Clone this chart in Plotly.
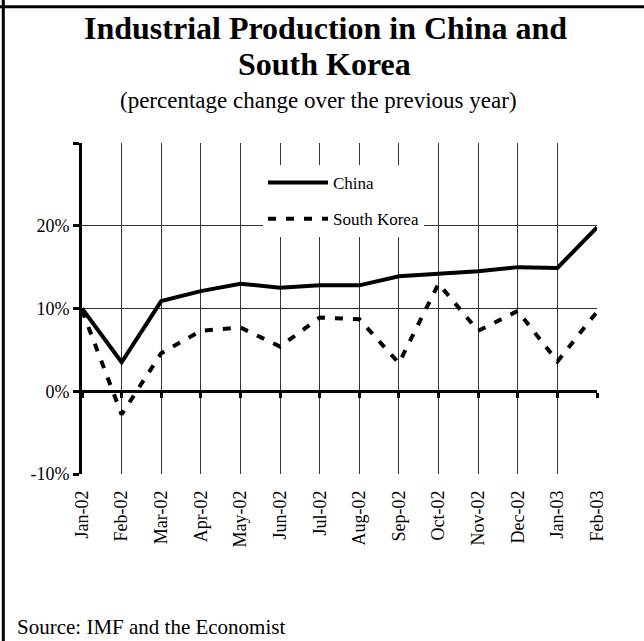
import plotly.graph_objects as go

months = ["Jan-02", "Feb-02", "Mar-02", "Apr-02", "May-02", "Jun-02", "Jul-02",
          "Aug-02", "Sep-02", "Oct-02", "Nov-02", "Dec-02", "Jan-03", "Feb-03"]
china = [10.0, 3.5, 10.9, 12.1, 13.0, 12.5, 12.8, 12.8, 13.9, 14.2, 14.5, 15.0, 14.9, 19.8]
south_korea = [9.8, -2.8, 4.6, 7.3, 7.7, 5.4, 8.9, 8.7, 3.4, 13.0, 7.3, 9.7, 3.6, 9.6]
y_ticks = [-10, 0, 10, 20, 30]
y_tick_labels = ["-10%", "0%", "10%", "20%", ""]

FONT = "Liberation Serif"
W, H = 644, 641
L, R, T, B = 82, 47, 143, 167
PW, PH = W - L - R, H - T - B


def px(x):
    return (x - L) / PW


def py(y):
    return (H - B - y) / PH


fig = go.Figure()
fig.add_trace(go.Scatter(
    x=months, y=china, name="China", mode="lines",
    line=dict(color="black", width=4), legendgroup="a"))
fig.add_trace(go.Scatter(
    x=months, y=south_korea, name="South Korea", mode="lines",
    line=dict(color="black", width=4, dash="8px,10px"), legendgroup="b"))
# helper trace so the zero-crossing category axis is drawn
fig.add_trace(go.Scatter(
    x=months, y=china, xaxis="x2", mode="lines", line=dict(width=0),
    opacity=0, showlegend=False, hoverinfo="skip"))

fig.update_layout(
    width=W, height=H,
    margin=dict(l=L, r=R, t=T, b=B),
    paper_bgcolor="white", plot_bgcolor="white",
    font=dict(family=FONT, color="black"),
    showlegend=True,
    legend=dict(x=px(263), y=py(165), xanchor="left", yanchor="top",
                bgcolor="white", borderwidth=0, font=dict(size=17, family=FONT),
                tracegroupgap=11, itemwidth=60),
    xaxis=dict(type="category", categoryorder="array", categoryarray=months,
               range=[0, 13], showgrid=True, gridcolor="#333", gridwidth=1,
               showline=False, zeroline=False, ticks="", tickangle=-90,
               tickfont=dict(size=18, family=FONT), ticklabelstandoff=12),
    xaxis2=dict(type="category", categoryorder="array", categoryarray=months,
                range=[0, 13], overlaying="x", anchor="free", position=0.25,
                showgrid=False, showline=True, linecolor="black", linewidth=3,
                ticks="outside", ticklen=5, tickwidth=3, tickcolor="black",
                showticklabels=False, zeroline=False),
    yaxis=dict(range=[-10, 30], tickvals=y_ticks, ticktext=y_tick_labels,
               showgrid=True, gridcolor="#333", gridwidth=1, zeroline=False,
               showline=True, linecolor="black", linewidth=3,
               ticks="outside", ticklen=6, tickwidth=3, tickcolor="black",
               tickfont=dict(size=18, family=FONT)),
)

fig.add_annotation(text="<b>Industrial Production in China and</b>", xref="paper", yref="paper",
                   x=px(325), y=py(28), xanchor="center", yanchor="middle",
                   showarrow=False, font=dict(size=32, family=FONT))
fig.add_annotation(text="<b>South Korea</b>", xref="paper", yref="paper",
                   x=px(324), y=py(64), xanchor="center", yanchor="middle",
                   showarrow=False, font=dict(size=32, family=FONT))
fig.add_annotation(text="(percentage change over the previous year)", xref="paper", yref="paper",
                   x=px(318), y=py(100), xanchor="center", yanchor="middle",
                   showarrow=False, font=dict(size=23, family=FONT))
fig.add_annotation(text="Source: IMF and the Economist", xref="paper", yref="paper",
                   x=px(15), y=py(627), xanchor="left", yanchor="middle",
                   showarrow=False, font=dict(size=21, family=FONT))

# page border lines of the surrounding frame
fig.add_shape(type="line", xref="paper", yref="paper",
              x0=px(3.3), x1=px(3.3), y0=py(-5), y1=py(650),
              line=dict(color="black", width=3))
fig.add_shape(type="line", xref="paper", yref="paper",
              x0=px(-5), x1=px(650), y0=py(6.7), y1=py(6.7),
              line=dict(color="black", width=3))

fig.write_html("out.html", config={"displayModeBar": False},
               post_script="document.body.style.margin='0';document.body.style.overflow='hidden';")
